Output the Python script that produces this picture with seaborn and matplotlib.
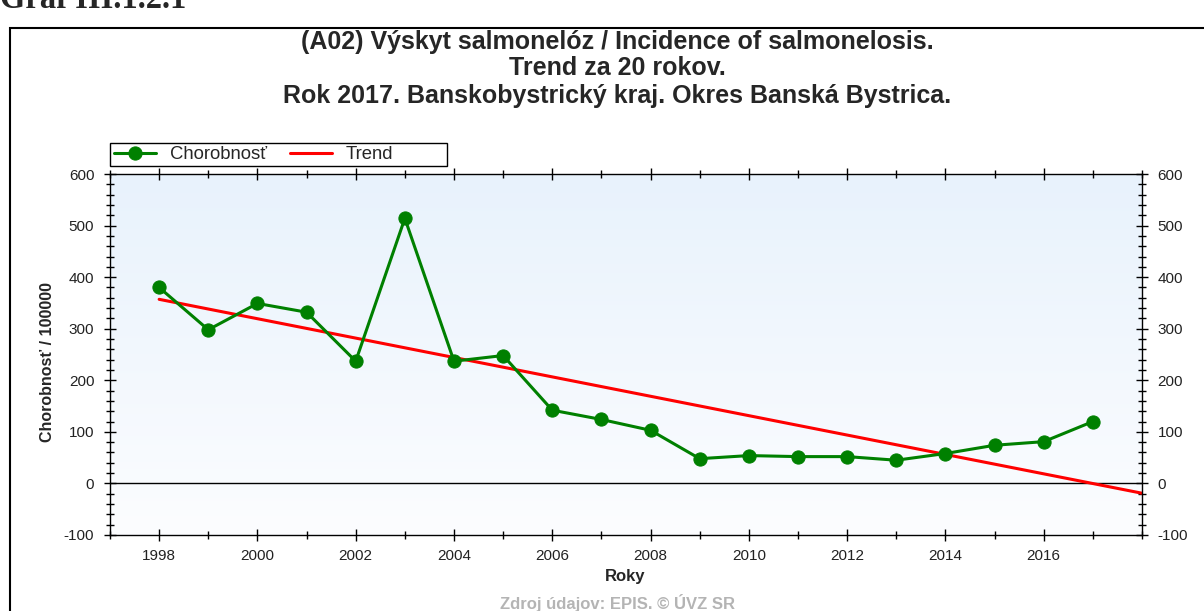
import numpy as np
import pandas as pd
import matplotlib
matplotlib.use('Agg')
import matplotlib.pyplot as plt
import seaborn as sns
from matplotlib.patches import Rectangle
from matplotlib.ticker import MultipleLocator

# values
years = [1998, 1999, 2000, 2001, 2002, 2003, 2004, 2005, 2006, 2007,
         2008, 2009, 2010, 2011, 2012, 2013, 2014, 2015, 2016, 2017]
incidence = [380, 298, 349, 332, 237, 514, 237, 248, 142, 124,
             103, 48, 54, 52, 52, 45, 58, 74, 81, 120]
trend_years = [1998, 2018]
trend_values = [357, -19]

data = pd.DataFrame({'rok': years, 'chorobnost': incidence})
trend = pd.DataFrame({'rok': trend_years, 'trend': trend_values})

sns.set_style('white')
plt.rcParams['font.family'] = ['Liberation Sans', 'DejaVu Sans']
plt.rcParams['axes.unicode_minus'] = False

W, H = 1204, 611
fig = plt.figure(figsize=(W / 100, H / 100), dpi=100)
ax = fig.add_axes([110 / W, 76 / H, 1032 / W, 361 / H])

# outer frame and clipped caption
fig.patches.append(Rectangle((10 / W, -0.01), 1.0, (H - 28) / H + 0.01,
                             transform=fig.transFigure, fill=False,
                             edgecolor='black', linewidth=1.5, zorder=-1))
fig.text(0.0, 1.0, 'Graf III.1.2.1', family='Liberation Serif', fontsize=23.5,
         fontweight='bold', ha='left', va='center')

# light blue gradient background
grad = np.linspace(0, 1, 256).reshape(-1, 1)
cmap = matplotlib.colors.LinearSegmentedColormap.from_list('bg', ['#e8f2fc', '#fcfdff'])
ax.imshow(grad, aspect='auto', cmap=cmap, extent=[1997, 2018, -100, 600],
          origin='upper', zorder=0)

ax.axhline(0, color='black', linewidth=1, zorder=1)
sns.lineplot(data=trend, x='rok', y='trend', color='#ff0000', linewidth=2.2,
             ax=ax, zorder=2, label='Trend')
sns.lineplot(data=data, x='rok', y='chorobnost', color='#008000', linewidth=2.2,
             marker='o', markersize=9.5, markeredgecolor='#008000', ax=ax,
             zorder=3, label='Chorobnosť')

ax.set_xlim(1997, 2018)
ax.set_ylim(-100, 600)
ax.xaxis.set_major_locator(MultipleLocator(2))
ax.xaxis.set_minor_locator(MultipleLocator(1))
ax.yaxis.set_major_locator(MultipleLocator(100))
ax.yaxis.set_minor_locator(MultipleLocator(20))
ax.tick_params(which='both', direction='inout', color='black', width=1,
               left=True, right=True, bottom=True, top=True,
               labelleft=True, labelright=True, labelsize=11, labelcolor='#222222')
ax.tick_params(which='major', length=8.6)
ax.tick_params(which='minor', length=5.8)
ax.tick_params(axis='y', pad=7)
ax.tick_params(axis='x', pad=6)
ax.set_xticks(range(1998, 2018, 2))
for s in ax.spines.values():
    s.set_color('black')
    s.set_linewidth(1)

ax.set_xlabel('Roky', fontsize=12, fontweight='bold')
ax.set_ylabel('Chorobnosť / 100000', fontsize=11.5, fontweight='bold')
ax.xaxis.set_label_coords(0.499, -0.116)
ax.xaxis.label.set_va('center')
ax.yaxis.set_label_coords(-0.061, 0.48)
ax.yaxis.label.set_va('center')

# legend box drawn separately so it keeps the reference width
fig.patches.append(Rectangle((110 / W, (H - 166) / H), 337 / W, 23 / H,
                             transform=fig.transFigure, fill=True,
                             facecolor='white', edgecolor='black', linewidth=1,
                             zorder=-1))
handles, labels = ax.get_legend_handles_labels()
ax.legend(handles[::-1], labels[::-1], loc='center left', ncol=2,
          bbox_to_anchor=(114 / W, (H - 154.5) / H),
          bbox_transform=fig.transFigure, frameon=False,
          fontsize=13.3, handlelength=2.3, handletextpad=0.75,
          columnspacing=1.2, borderpad=0, borderaxespad=0)

title_x = 617 / W
fig.text(title_x, 1 - 42 / H, '(A02) Výskyt salmonelóz / Incidence of salmonelosis.',
         ha='center', va='center', fontsize=18, fontweight='bold')
fig.text(title_x, 1 - 68 / H, 'Trend za 20 rokov.',
         ha='center', va='center', fontsize=18, fontweight='bold')
fig.text(title_x, 1 - 96 / H, 'Rok 2017. Banskobystrický kraj. Okres Banská Bystrica.',
         ha='center', va='center', fontsize=18, fontweight='bold')
fig.text(title_x, 1 - 603 / H, 'Zdroj údajov: EPIS. © ÚVZ SR',
         ha='center', va='center', fontsize=12, fontweight='bold', color='#b4b4b4')

fig.savefig('out.png', dpi=100)
